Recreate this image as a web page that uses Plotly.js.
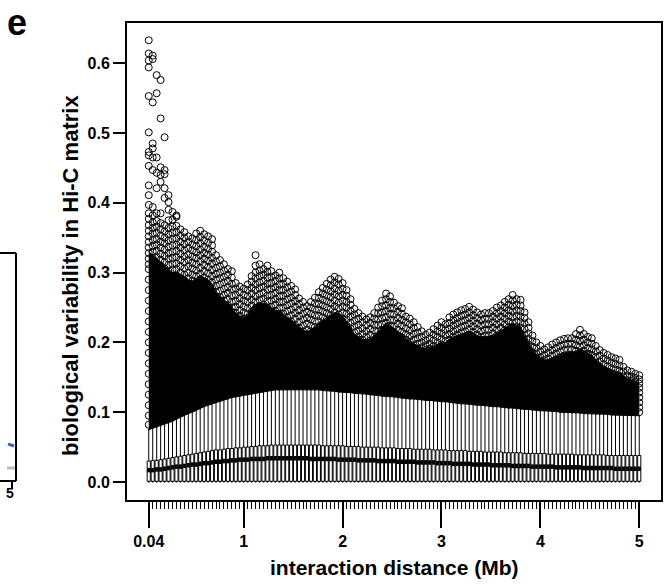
<!DOCTYPE html>
<html><head><meta charset="utf-8">
<script src="https://cdn.plot.ly/plotly-3.0.1.min.js"></script>
<style>html,body{margin:0;padding:0;background:#fff}</style>
</head><body><div id="chart" style="width:669px;height:586px"></div>
<script>
// interaction distance bins (Mb)
const dist = [0.04,0.08,0.12,0.16,0.2,0.24,0.28,0.32,0.36,0.4,0.44,0.48,0.52,0.56,0.6,0.64,0.68,0.72,0.76,0.8,0.84,0.88,0.92,0.96,1,
1.04,1.08,1.12,1.16,1.2,1.24,1.28,1.32,1.36,1.4,1.44,1.48,1.52,1.56,1.6,1.64,1.68,1.72,1.76,1.8,1.84,1.88,1.92,1.96,2,
2.04,2.08,2.12,2.16,2.2,2.24,2.28,2.32,2.36,2.4,2.44,2.48,2.52,2.56,2.6,2.64,2.68,2.72,2.76,2.8,2.84,2.88,2.92,2.96,3,
3.04,3.08,3.12,3.16,3.2,3.24,3.28,3.32,3.36,3.4,3.44,3.48,3.52,3.56,3.6,3.64,3.68,3.72,3.76,3.8,3.84,3.88,3.92,3.96,4,
4.04,4.08,4.12,4.16,4.2,4.24,4.28,4.32,4.36,4.4,4.44,4.48,4.52,4.56,4.6,4.64,4.68,4.72,4.76,4.8,4.84,4.88,4.92,4.96,5];

const lowerWhisker = [0,0,0,0,0,0,0,0,0,0,0,0,0,0,0,0,0,0,0,0,0,0,0,0,0,
0,0,0,0,0,0,0,0,0,0,0,0,0,0,0,0,0,0,0,0,0,0,0,0,0,
0,0,0,0,0,0,0,0,0,0,0,0,0,0,0,0,0,0,0,0,0,0,0,0,0,
0,0,0,0,0,0,0,0,0,0,0,0,0,0,0,0,0,0,0,0,0,0,0,0,0,
0,0,0,0,0,0,0,0,0,0,0,0,0,0,0,0,0,0,0,0,0,0,0,0,0];

const q1 = [0.001,0.001,0.001,0.001,0.001,0.001,0.001,0.001,0.001,0.001,0.001,0.001,0.001,0.001,0.001,0.001,0.001,0.001,0.001,0.001,0.001,0.001,0.001,0.001,0.001,
0.001,0.001,0.001,0.001,0.001,0.001,0.001,0.001,0.001,0.001,0.001,0.001,0.001,0.001,0.001,0.001,0.001,0.001,0.001,0.001,0.001,0.001,0.001,0.001,0.001,
0.001,0.001,0.001,0.001,0.001,0.001,0.001,0.001,0.001,0.001,0.001,0.001,0.001,0.001,0.001,0.001,0.001,0.001,0.001,0.001,0.001,0.001,0.001,0.001,0.001,
0.001,0.001,0.001,0.001,0.001,0.001,0.001,0.001,0.001,0.001,0.001,0.001,0.001,0.001,0.001,0.001,0.001,0.001,0.001,0.001,0.001,0.001,0.001,0.001,0.001,
0.001,0.001,0.001,0.001,0.001,0.001,0.001,0.001,0.001,0.001,0.001,0.001,0.001,0.001,0.001,0.001,0.001,0.001,0.001,0.001,0.001,0.001,0.001,0.001,0.001];

const median = [0.017,0.017,0.018,0.018,0.019,0.020,0.021,0.022,0.022,0.023,0.024,0.025,0.025,0.026,0.027,0.027,0.028,0.029,0.029,0.030,0.030,0.031,0.031,0.032,0.032,
0.032,0.033,0.033,0.033,0.033,0.034,0.034,0.034,0.034,0.034,0.034,0.034,0.034,0.034,0.034,0.034,0.033,0.033,0.033,0.033,0.033,0.033,0.033,0.032,0.032,
0.032,0.032,0.032,0.031,0.031,0.031,0.031,0.031,0.030,0.030,0.030,0.030,0.030,0.029,0.029,0.029,0.029,0.029,0.028,0.028,0.028,0.028,0.028,0.027,0.027,
0.027,0.027,0.026,0.026,0.026,0.026,0.026,0.025,0.025,0.025,0.025,0.025,0.024,0.024,0.024,0.024,0.024,0.023,0.023,0.023,0.023,0.023,0.022,0.022,0.022,
0.022,0.022,0.022,0.021,0.021,0.021,0.021,0.021,0.021,0.021,0.020,0.020,0.020,0.020,0.020,0.020,0.020,0.020,0.019,0.019,0.019,0.019,0.019,0.019,0.019];

const q3 = [0.030,0.031,0.031,0.032,0.033,0.034,0.035,0.036,0.037,0.038,0.039,0.040,0.041,0.042,0.043,0.044,0.045,0.046,0.046,0.047,0.048,0.048,0.049,0.049,0.050,
0.050,0.051,0.051,0.052,0.052,0.052,0.053,0.053,0.053,0.053,0.053,0.053,0.053,0.053,0.053,0.053,0.053,0.053,0.053,0.052,0.052,0.052,0.052,0.052,0.052,
0.051,0.051,0.051,0.051,0.050,0.050,0.050,0.050,0.050,0.049,0.049,0.049,0.049,0.048,0.048,0.048,0.048,0.047,0.047,0.047,0.047,0.047,0.046,0.046,0.046,
0.046,0.045,0.045,0.045,0.045,0.045,0.044,0.044,0.044,0.044,0.043,0.043,0.043,0.043,0.043,0.042,0.042,0.042,0.042,0.042,0.041,0.041,0.041,0.041,0.041,
0.041,0.040,0.040,0.040,0.040,0.040,0.040,0.040,0.039,0.039,0.039,0.039,0.039,0.039,0.039,0.039,0.038,0.038,0.038,0.038,0.038,0.038,0.038,0.038,0.038];

const upperWhisker = [0.075,0.077,0.078,0.080,0.082,0.085,0.087,0.090,0.093,0.095,0.098,0.100,0.103,0.105,0.108,0.110,0.112,0.114,0.116,0.118,0.119,0.121,0.122,0.123,0.125,
0.126,0.127,0.128,0.129,0.130,0.131,0.131,0.132,0.132,0.132,0.133,0.133,0.133,0.133,0.133,0.133,0.132,0.132,0.132,0.131,0.131,0.130,0.130,0.129,0.129,
0.128,0.128,0.127,0.127,0.126,0.126,0.125,0.125,0.124,0.123,0.123,0.122,0.122,0.121,0.120,0.120,0.119,0.119,0.118,0.118,0.117,0.117,0.116,0.116,0.115,
0.115,0.114,0.113,0.113,0.112,0.112,0.111,0.111,0.110,0.110,0.109,0.109,0.108,0.108,0.107,0.107,0.106,0.106,0.105,0.105,0.104,0.104,0.103,0.103,0.102,
0.102,0.102,0.101,0.101,0.100,0.100,0.100,0.099,0.099,0.099,0.098,0.098,0.098,0.097,0.097,0.097,0.097,0.096,0.096,0.096,0.096,0.095,0.095,0.095,0.095];

// upper edge of the solid mass of overlapping outlier circles
const denseOutlierTop = [0.330,0.325,0.320,0.315,0.310,0.305,0.300,0.300,0.298,0.295,0.290,0.288,0.292,0.296,0.293,0.290,0.284,0.272,0.266,0.261,0.256,0.251,0.242,0.238,0.236,
0.240,0.248,0.255,0.256,0.255,0.255,0.250,0.246,0.245,0.240,0.236,0.232,0.228,0.222,0.218,0.215,0.218,0.222,0.228,0.232,0.236,0.240,0.243,0.242,0.238,
0.230,0.222,0.212,0.208,0.205,0.203,0.205,0.210,0.215,0.222,0.228,0.225,0.220,0.215,0.212,0.205,0.202,0.198,0.195,0.192,0.190,0.192,0.195,0.198,0.200,
0.200,0.205,0.208,0.210,0.212,0.214,0.216,0.214,0.210,0.208,0.208,0.209,0.210,0.213,0.216,0.220,0.224,0.228,0.224,0.222,0.210,0.200,0.190,0.183,0.178,
0.175,0.175,0.178,0.180,0.182,0.184,0.185,0.185,0.188,0.190,0.188,0.185,0.182,0.175,0.170,0.166,0.163,0.160,0.158,0.156,0.152,0.148,0.146,0.144,0.142];

// individually visible outliers, one list per distance bin
const outlierVals = [
[0.633,0.614,0.604,0.594,0.553,0.501,0.473,0.468,0.453,0.425,0.411,0.397,0.385,0.377,0.368,0.36,0.352,0.344,0.336,0.328,0.32,0.312,0.305,0.29,0.275,0.26,0.245,0.23,0.215,0.2,0.185,0.17,0.155,0.14,0.125,0.11,0.095,0.082],
[0.611,0.606,0.544,0.485,0.478,0.465,0.447,0.394,0.382,0.372,0.364,0.356,0.347,0.338,0.33,0.321,0.312,0.303,0.295],
[0.583,0.557,0.465,0.443,0.421,0.385,0.374,0.366,0.357,0.348,0.34,0.331,0.322,0.314,0.305,0.296,0.288],
[0.576,0.521,0.451,0.440,0.430,0.385,0.371,0.362,0.353,0.344,0.336,0.327,0.318,0.31,0.3,0.291,0.283],
[0.494,0.447,0.441,0.421,0.407,0.368,0.359,0.35,0.342,0.333,0.324,0.315,0.306,0.297,0.288,0.279],
[0.411,0.401,0.390,0.375,0.364,0.355,0.346,0.337,0.328,0.32,0.311,0.302,0.293,0.284,0.275],
[0.387,0.376,0.366,0.357,0.348,0.339,0.33,0.321,0.312,0.304,0.295,0.286,0.277,0.269],
[0.382,0.380,0.367,0.358,0.349,0.34,0.331,0.322,0.313,0.305,0.296,0.287,0.278,0.27],
[0.362,0.353,0.344,0.336,0.327,0.318,0.309,0.3,0.292,0.283,0.274,0.266],
[0.358,0.35,0.341,0.332,0.323,0.315,0.306,0.297,0.288,0.28,0.271,0.263],
[0.352,0.344,0.335,0.326,0.318,0.309,0.3,0.292,0.283,0.274,0.265],
[0.349,0.34,0.332,0.323,0.314,0.306,0.297,0.288,0.28,0.271,0.262],
[0.356,0.347,0.338,0.329,0.321,0.312,0.303,0.295,0.286,0.277,0.268,0.26],
[0.36,0.351,0.342,0.333,0.325,0.316,0.307,0.298,0.29,0.281,0.272,0.263,0.255],
[0.355,0.346,0.337,0.328,0.32,0.311,0.302,0.293,0.285,0.276,0.267,0.258],
[0.352,0.343,0.334,0.326,0.317,0.308,0.299,0.29,0.282,0.273,0.264,0.255],
[0.348,0.339,0.33,0.321,0.313,0.304,0.295,0.286,0.278,0.269,0.26,0.251],
[0.325,0.316,0.307,0.298,0.29,0.281,0.272,0.263,0.255,0.246],
[0.318,0.309,0.3,0.292,0.283,0.274,0.265,0.257,0.248,0.24],
[0.312,0.303,0.294,0.286,0.277,0.268,0.26,0.251,0.243],
[0.305,0.297,0.288,0.279,0.271,0.262,0.253,0.245,0.237],
[0.302,0.293,0.284,0.276,0.267,0.258,0.25,0.241],
[0.285,0.277,0.268,0.259,0.251,0.242,0.234],
[0.28,0.272,0.263,0.255,0.246,0.238,0.23],
[0.277,0.268,0.26,0.251,0.243,0.234,0.227],
[0.283,0.275,0.266,0.258,0.249,0.241,0.232,0.225],
[0.295,0.287,0.278,0.27,0.261,0.253,0.244,0.236,0.228],
[0.325,0.31,0.3,0.292,0.283,0.275,0.266,0.258,0.249,0.241,0.232,0.224],
[0.312,0.303,0.295,0.286,0.278,0.269,0.261,0.252,0.244,0.235,0.227,0.22],
[0.305,0.297,0.288,0.28,0.271,0.263,0.254,0.246,0.237,0.229,0.221],
[0.31,0.301,0.293,0.284,0.276,0.267,0.259,0.25,0.242,0.233,0.225,0.218],
[0.302,0.294,0.285,0.277,0.268,0.26,0.251,0.243,0.234,0.226,0.218],
[0.296,0.288,0.279,0.271,0.262,0.254,0.245,0.237,0.228,0.22],
[0.3,0.292,0.283,0.275,0.266,0.258,0.249,0.241,0.232,0.224,0.217],
[0.292,0.284,0.275,0.267,0.258,0.25,0.241,0.233,0.224,0.216],
[0.287,0.279,0.27,0.262,0.253,0.245,0.236,0.228,0.22,0.213],
[0.281,0.273,0.264,0.256,0.247,0.239,0.23,0.222,0.214],
[0.276,0.268,0.259,0.251,0.242,0.234,0.225,0.217],
[0.263,0.255,0.246,0.238,0.229,0.221,0.213],
[0.258,0.25,0.241,0.233,0.224,0.216,0.21],
[0.252,0.244,0.235,0.227,0.218,0.211],
[0.258,0.25,0.241,0.233,0.224,0.216,0.209],
[0.264,0.256,0.247,0.239,0.23,0.222,0.214,0.207],
[0.272,0.264,0.255,0.247,0.238,0.23,0.221,0.213,0.206],
[0.278,0.27,0.261,0.253,0.244,0.236,0.227,0.219,0.211,0.205],
[0.284,0.276,0.267,0.259,0.25,0.242,0.233,0.225,0.216,0.208],
[0.29,0.282,0.273,0.265,0.256,0.248,0.239,0.231,0.222,0.214,0.206],
[0.294,0.286,0.277,0.269,0.26,0.252,0.243,0.235,0.226,0.218,0.21],
[0.291,0.283,0.274,0.266,0.257,0.249,0.24,0.232,0.223,0.215,0.207],
[0.285,0.277,0.268,0.26,0.251,0.243,0.234,0.226,0.217,0.209,0.202],
[0.275,0.267,0.258,0.25,0.241,0.233,0.224,0.216,0.208,0.2],
[0.262,0.254,0.245,0.237,0.228,0.22,0.211,0.203],
[0.248,0.24,0.231,0.223,0.214,0.206,0.199],
[0.242,0.234,0.225,0.217,0.208,0.2],
[0.237,0.229,0.22,0.212,0.204,0.197],
[0.233,0.225,0.216,0.208,0.2,0.194],
[0.236,0.228,0.219,0.211,0.203,0.196],
[0.242,0.234,0.225,0.217,0.208,0.2,0.194],
[0.25,0.242,0.233,0.225,0.216,0.208,0.2,0.193],
[0.26,0.252,0.243,0.235,0.226,0.218,0.209,0.201,0.194],
[0.27,0.262,0.253,0.245,0.236,0.228,0.219,0.211,0.203,0.195],
[0.266,0.258,0.249,0.241,0.232,0.224,0.215,0.207,0.199,0.192],
[0.257,0.249,0.24,0.232,0.223,0.215,0.206,0.198,0.191],
[0.252,0.244,0.235,0.227,0.218,0.21,0.202,0.194],
[0.249,0.241,0.232,0.224,0.215,0.207,0.199,0.192],
[0.237,0.229,0.22,0.212,0.204,0.196,0.19],
[0.234,0.226,0.217,0.209,0.201,0.194],
[0.229,0.221,0.212,0.204,0.196,0.19],
[0.222,0.214,0.206,0.198,0.191],
[0.216,0.208,0.2,0.193,0.187],
[0.211,0.203,0.196,0.189],
[0.214,0.206,0.198,0.191,0.185],
[0.219,0.211,0.203,0.195,0.188],
[0.224,0.216,0.208,0.2,0.192,0.185],
[0.229,0.221,0.213,0.205,0.197,0.19,0.184],
[0.226,0.218,0.21,0.202,0.194,0.187],
[0.236,0.228,0.22,0.212,0.204,0.196,0.189,0.183],
[0.24,0.232,0.224,0.216,0.208,0.2,0.192,0.185],
[0.243,0.235,0.227,0.219,0.211,0.203,0.195,0.188,0.182],
[0.246,0.238,0.23,0.222,0.214,0.206,0.198,0.19,0.183],
[0.248,0.24,0.232,0.224,0.216,0.208,0.2,0.192,0.185,0.18],
[0.251,0.243,0.235,0.227,0.219,0.211,0.203,0.195,0.187,0.18],
[0.247,0.239,0.231,0.223,0.215,0.207,0.199,0.191,0.184],
[0.243,0.235,0.227,0.219,0.211,0.203,0.195,0.187,0.18],
[0.24,0.232,0.224,0.216,0.208,0.2,0.192,0.185,0.178],
[0.242,0.234,0.226,0.218,0.21,0.202,0.194,0.186,0.179],
[0.242,0.234,0.226,0.218,0.21,0.202,0.194,0.186,0.178],
[0.245,0.237,0.229,0.221,0.213,0.205,0.197,0.189,0.181,0.175],
[0.25,0.242,0.234,0.226,0.218,0.21,0.202,0.194,0.186,0.179],
[0.253,0.245,0.237,0.229,0.221,0.213,0.205,0.197,0.189,0.181,0.175],
[0.258,0.25,0.242,0.234,0.226,0.218,0.21,0.202,0.194,0.186,0.178],
[0.262,0.254,0.246,0.238,0.23,0.222,0.214,0.206,0.198,0.19,0.182,0.175],
[0.268,0.26,0.252,0.244,0.236,0.228,0.22,0.212,0.204,0.196,0.188,0.18],
[0.262,0.254,0.246,0.238,0.23,0.222,0.214,0.206,0.198,0.19,0.182,0.175],
[0.261,0.253,0.245,0.237,0.229,0.221,0.213,0.205,0.197,0.189,0.181,0.174],
[0.243,0.235,0.227,0.219,0.211,0.203,0.195,0.187,0.179,0.172],
[0.229,0.221,0.213,0.205,0.197,0.189,0.181,0.173],
[0.21,0.202,0.194,0.186,0.178,0.171],
[0.2,0.192,0.184,0.177,0.17],
[0.195,0.187,0.179,0.172,0.166],
[0.19,0.182,0.175,0.168],
[0.193,0.185,0.177,0.17,0.164],
[0.197,0.189,0.181,0.173,0.166],
[0.2,0.192,0.184,0.176,0.169],
[0.203,0.195,0.187,0.179,0.172,0.165],
[0.205,0.197,0.189,0.181,0.173,0.166],
[0.206,0.198,0.19,0.182,0.174,0.167],
[0.206,0.198,0.19,0.182,0.174,0.166,0.16],
[0.212,0.204,0.196,0.188,0.18,0.172,0.165],
[0.218,0.21,0.202,0.194,0.186,0.178,0.17,0.163],
[0.212,0.204,0.196,0.188,0.18,0.172,0.165],
[0.208,0.2,0.192,0.184,0.176,0.168,0.161],
[0.206,0.198,0.19,0.182,0.174,0.166,0.159],
[0.195,0.187,0.179,0.171,0.163,0.157],
[0.189,0.181,0.173,0.165,0.158],
[0.185,0.177,0.169,0.161,0.155],
[0.182,0.174,0.166,0.158,0.152],
[0.179,0.171,0.163,0.156,0.15],
[0.177,0.169,0.161,0.154],
[0.175,0.167,0.159,0.152],
[0.165,0.158,0.151,0.146],
[0.16,0.153,0.146],
[0.158,0.151,0.145],
[0.155,0.149,0.143],
[0.153,0.147,0.141,0.135,0.128,0.121,0.114,0.107,0.1]
];

const xTickVals = [0.04,1,2,3,4,5];
const xTickText = ['0.04','1','2','3','4','5'];
const yTickVals = [0,0.1,0.2,0.3,0.4,0.5,0.6];
const yTickText = ['0.0','0.1','0.2','0.3','0.4','0.5','0.6'];
const xTitle = 'interaction distance (Mb)';
const yTitle = 'biological variability in Hi-C matrix';

// ---- build traces ----
const boxHalf = 0.016;
const medX = [], medY = [];
dist.forEach((d, i) => { medX.push(d - boxHalf, d + boxHalf, null); medY.push(median[i], median[i], null); });
const outX = [], outY = [];
outlierVals.forEach((vals, i) => vals.forEach(v => { outX.push(dist[i]); outY.push(v); }));

const FONT = 'Liberation Sans, Arial, Helvetica, sans-serif';

const traces = [
  {type:'box', orientation:'v', x: dist, q1: q1, median: median, q3: q3,
   lowerfence: lowerWhisker, upperfence: upperWhisker, boxpoints:false,
   width: 2*boxHalf, whiskerwidth: 0.5, fillcolor:'white',
   line:{color:'black', width:1}, hoverinfo:'skip', showlegend:false},
  {type:'scatter', mode:'lines', x: dist, y: upperWhisker, line:{color:'black', width:1},
   hoverinfo:'skip', showlegend:false},
  {type:'scatter', mode:'lines', x: dist, y: denseOutlierTop, fill:'tonexty', fillcolor:'black',
   line:{color:'black', width:1}, hoverinfo:'skip', showlegend:false},
  {type:'scatter', mode:'lines', x: medX, y: medY, line:{color:'black', width:4.5},
   hoverinfo:'skip', showlegend:false},
  {type:'scatter', mode:'markers', x: outX, y: outY,
   marker:{symbol:'circle-open', size:7, color:'black', line:{width:1}},
   hoverinfo:'skip', showlegend:false}
];

const L = 127, R = 661, T = 23, B = 500;
const px = v => (v - L) / (R - L);
const py = v => (B - v) / (B - T);

const layout = {
  width: 669, height: 586,
  margin: {l: L, r: 669 - R, t: T, b: 586 - B, pad: 0},
  paper_bgcolor: 'white', plot_bgcolor: 'white',
  font: {family: FONT, color: 'black'},
  showlegend: false,
  xaxis: {
    range: [-0.18, 5.22], showgrid: false, zeroline: false,
    showline: true, mirror: true, linecolor: 'black', linewidth: 2,
    tickmode: 'array', tickvals: xTickVals, ticktext: xTickText,
    ticks: 'outside', ticklen: 26, tickwidth: 2, tickcolor: 'black',
    tickfont: {family: FONT, size: 16, weight: 'bold', color: 'black'},
    minor: {tickmode: 'array', tickvals: dist, ticks: 'outside', ticklen: 7, tickwidth: 1, tickcolor: 'black', showgrid: false},
    title: {text: ''}
  },
  yaxis: {
    range: [-0.0258, 0.6577], showgrid: false, zeroline: false,
    showline: true, mirror: true, linecolor: 'black', linewidth: 2,
    tickmode: 'array', tickvals: yTickVals, ticktext: yTickText,
    ticks: 'outside', ticklen: 12, tickwidth: 2, tickcolor: 'black',
    tickfont: {family: FONT, size: 16, weight: 'bold', color: 'black'},
    title: {text: ''}
  },
  shapes: [
    {type:'line', xref:'paper', yref:'paper', x0: px(16), x1: px(16), y0: py(481), y1: py(253), line:{color:'black', width:2}},
    {type:'line', xref:'paper', yref:'paper', x0: px(-2), x1: px(16), y0: py(253), y1: py(253), line:{color:'black', width:2}},
    {type:'line', xref:'paper', yref:'paper', x0: px(-2), x1: px(16), y0: py(481), y1: py(481), line:{color:'black', width:2}},
    {type:'line', xref:'paper', yref:'paper', x0: px(12), x1: px(12), y0: py(481), y1: py(489), line:{color:'black', width:2}},
    {type:'line', xref:'paper', yref:'paper', x0: px(8), x1: px(14), y0: py(444), y1: py(446), line:{color:'#4a62b0', width:3}},
    {type:'line', xref:'paper', yref:'paper', x0: px(7), x1: px(15), y0: py(468), y1: py(468), line:{color:'#bdbdbd', width:3}}
  ],
  annotations: [
    {xref:'paper', yref:'paper', x: px(394), y: py(567), xanchor:'center', yanchor:'middle', showarrow:false,
     text: xTitle, font:{family: FONT, size: 21, weight:'bold', color:'black'}},
    {xref:'paper', yref:'paper', x: px(70), y: py(276), xanchor:'center', yanchor:'middle', showarrow:false, textangle:-90,
     text: yTitle, font:{family: FONT, size: 22, weight:'bold', color:'black'}},
    {xref:'paper', yref:'paper', x: px(17), y: py(0), xanchor:'center', yanchor:'top', showarrow:false,
     text:'e', font:{family: FONT, size: 36, weight:'bold', color:'black'}},
    {xref:'paper', yref:'paper', x: px(10), y: py(493), xanchor:'center', yanchor:'middle', showarrow:false,
     text:'5', font:{family: FONT, size: 14, weight:'bold', color:'black'}}
  ]
};

Plotly.newPlot('chart', traces, layout, {staticPlot: true, displayModeBar: false});
</script>
</body></html>
